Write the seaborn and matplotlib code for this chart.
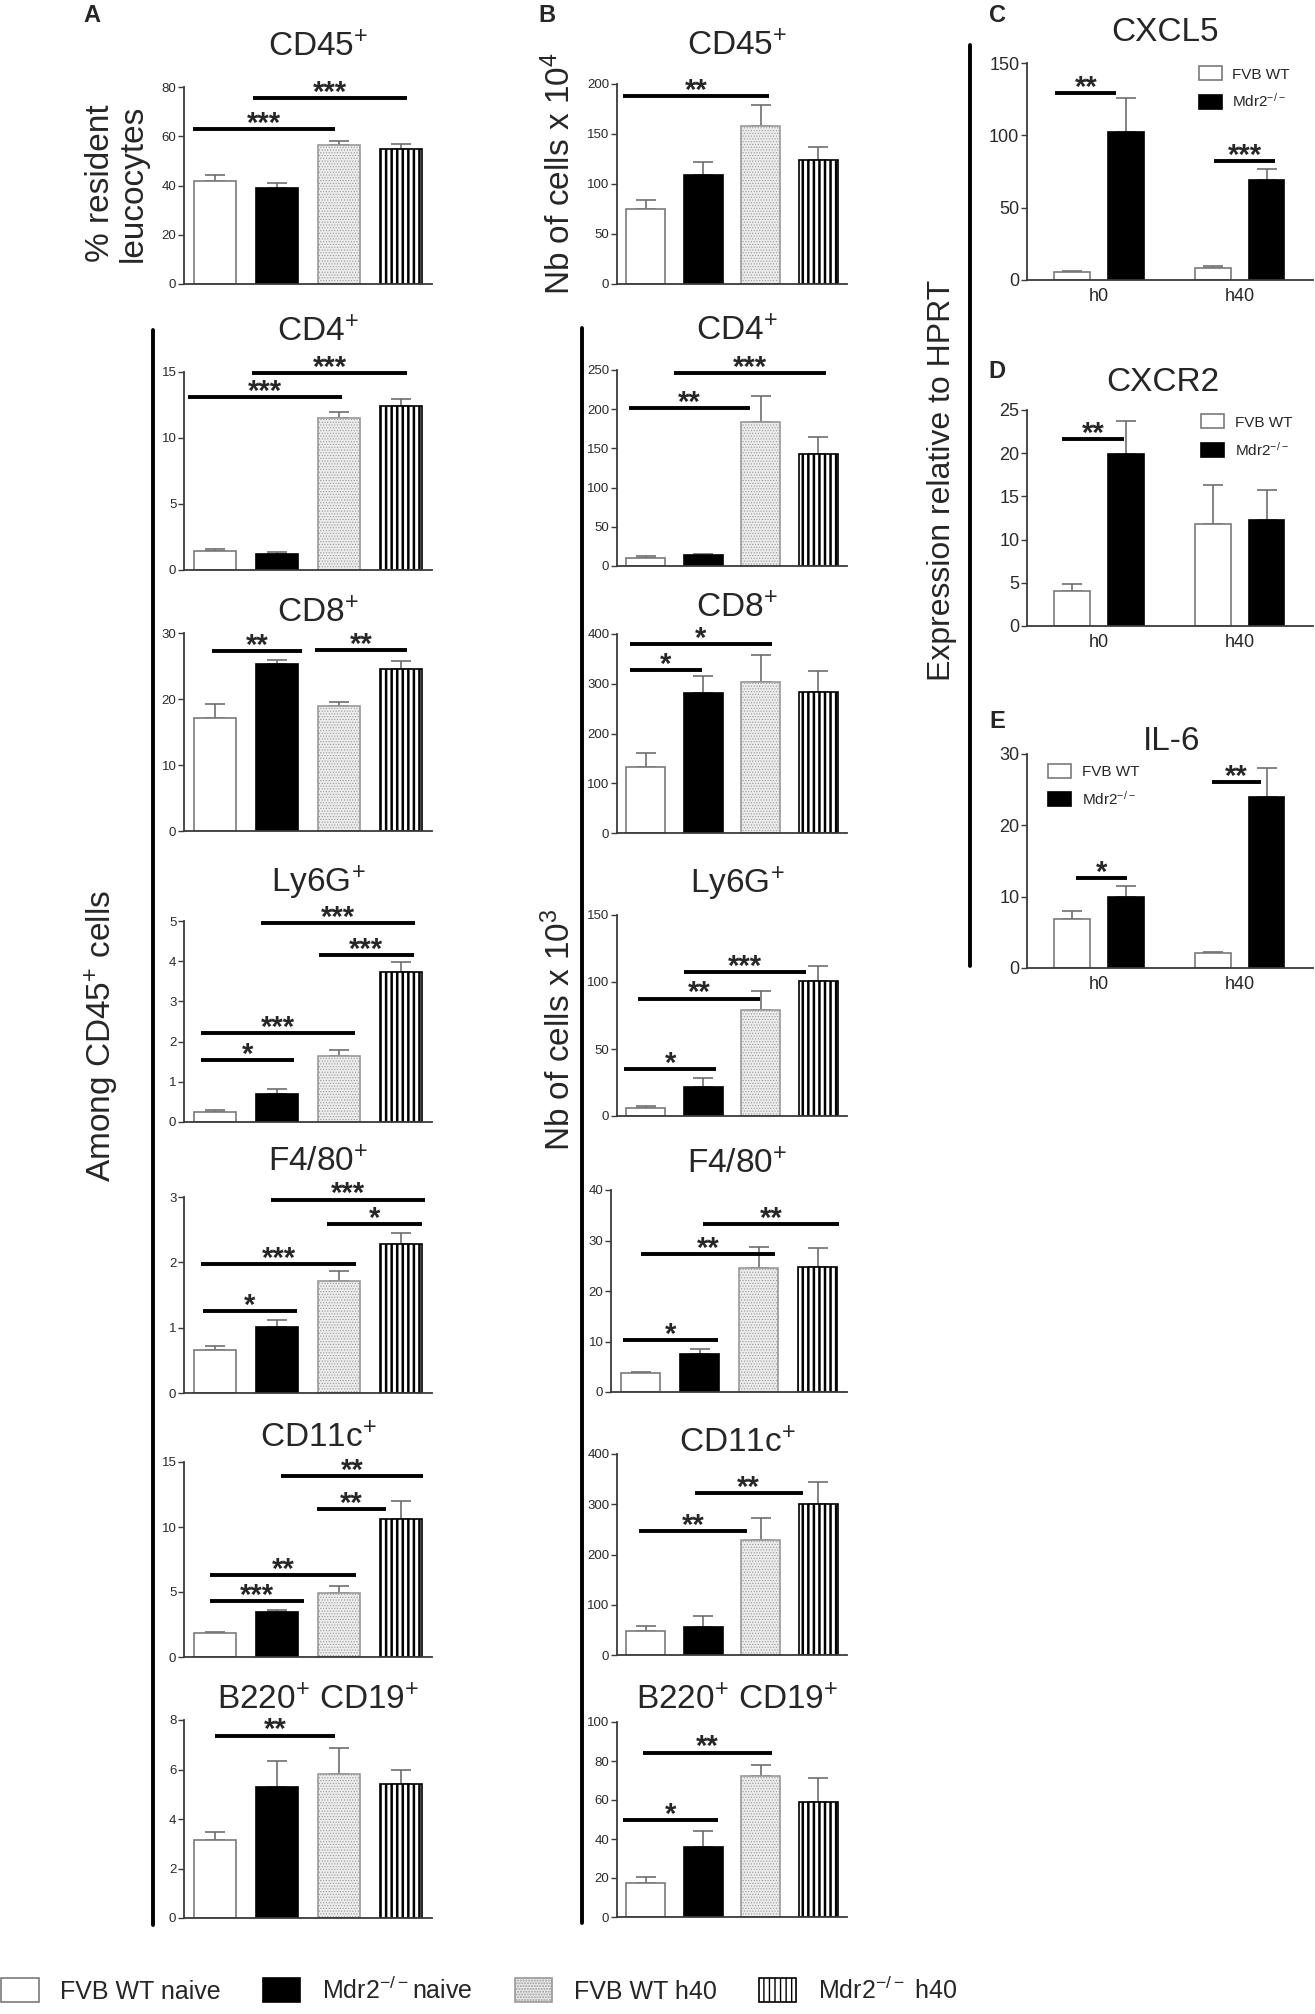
import numpy as np
import pandas as pd
import matplotlib
matplotlib.use('Agg')
import matplotlib.pyplot as plt
import seaborn as sns
from matplotlib.patches import Rectangle
from matplotlib.lines import Line2D

sns.set_theme(style='ticks')
plt.rcParams['font.family'] = ['Liberation Sans', 'DejaVu Sans']
plt.rcParams['mathtext.default'] = 'regular'

# ---- data -------------------------------------------------------------
groups = ['FVB WT naive', 'Mdr2-/- naive', 'FVB WT h40', 'Mdr2-/- h40']
legend_labels = ['FVB WT naive', 'Mdr2$^{-/-}$naive', 'FVB WT h40', 'Mdr2$^{-/-}$ h40']

# A: % of CD45+ / % resident leucocytes (mean, sem)
a_cd45 = [42.0, 38.9, 56.3, 54.9]
a_cd45_err = [2.2, 2.2, 1.8, 1.9]
a_cd4 = [1.45, 1.22, 11.48, 12.4]
a_cd4_err = [0.12, 0.11, 0.49, 0.53]
a_cd8 = [17.1, 25.35, 19.0, 24.6]
a_cd8_err = [2.1, 0.55, 0.6, 1.2]
a_ly6g = [0.25, 0.70, 1.65, 3.74]
a_ly6g_err = [0.04, 0.12, 0.14, 0.25]
a_f480 = [0.665, 1.01, 1.71, 2.28]
a_f480_err = [0.06, 0.115, 0.15, 0.17]
a_cd11c = [1.81, 3.48, 4.92, 10.64]
a_cd11c_err = [0.13, 0.12, 0.58, 1.36]
a_b220 = [3.16, 5.3, 5.8, 5.41]
a_b220_err = [0.33, 1.05, 1.07, 0.59]

# B: number of cells
b_cd45 = [75.1, 109.1, 158.1, 124.1]
b_cd45_err = [9.1, 13.0, 20.9, 13.1]
b_cd4 = [10.6, 14.1, 183.6, 142.9]
b_cd4_err = [2.0, 1.5, 32.7, 21.1]
b_cd8 = [132.4, 281.5, 303.6, 284.2]
b_cd8_err = [28.4, 34.5, 54.1, 42.3]
b_ly6g = [5.9, 21.9, 79.4, 101.0]
b_ly6g_err = [1.3, 6.2, 13.9, 11.1]
b_f480 = [3.76, 7.52, 24.6, 24.8]
b_f480_err = [0.21, 1.08, 4.2, 3.8]
b_cd11c = [48.1, 56.4, 228.2, 301.0]
b_cd11c_err = [9.6, 21.3, 45.3, 42.6]
b_b220 = [17.25, 35.7, 72.5, 58.8]
b_b220_err = [3.35, 8.35, 5.4, 12.4]

# significance bars: (from, to, height, label), x in group units
a_cd45_sig = [(-0.35, 1.94, 62.9, '***'), (0.61, 3.1, 75.6, '***')]
a_cd4_sig = [(-0.44, 2.05, 13.1, '***'), (0.6, 3.1, 14.9, '***')]
a_cd8_sig = [(-0.05, 1.41, 27.3, '**'), (1.62, 3.09, 27.4, '**')]
a_ly6g_sig = [(-0.23, 1.28, 1.53, '*'), (-0.23, 2.26, 2.21, '***'),
              (1.67, 3.21, 4.15, '***'), (0.735, 3.22, 4.95, '***')]
a_f480_sig = [(-0.2, 1.32, 1.26, '*'), (-0.22, 2.28, 1.97, '***'),
              (1.81, 3.34, 2.59, '*'), (0.9, 3.39, 2.96, '***')]
a_cd11c_sig = [(-0.08, 1.44, 4.29, '***'), (-0.08, 2.28, 6.28, '**'),
               (1.64, 2.76, 11.37, '**'), (1.06, 3.36, 13.94, '**')]
a_b220_sig = [(0.0, 1.93, 7.37, '**')]

b_cd45_sig = [(-0.4, 2.15, 187.7, '**')]
b_cd4_sig = [(-0.3, 1.81, 201.2, '**'), (0.49, 3.13, 246, '***')]
b_cd8_sig = [(-0.27, 0.97, 327.2, '*'), (-0.27, 2.19, 379.2, '*')]
b_ly6g_sig = [(-0.38, 1.23, 34.8, '*'), (-0.14, 1.99, 87.6, '**'), (0.67, 2.79, 107.5, '***')]
b_f480_sig = [(-0.3, 1.31, 10.2, '*'), (0.0, 2.28, 27.35, '**'), (1.06, 3.37, 33.2, '**')]
b_cd11c_sig = [(-0.12, 1.76, 247.4, '**'), (0.85, 2.73, 322.3, '**')]
b_b220_sig = [(-0.39, 1.26, 49.6, '*'), (-0.05, 2.2, 84.3, '**')]

# C-E: expression relative to HPRT
times = ['h0', 'h40']
genotypes = ['FVB WT', 'Mdr2$^{-/-}$']
cxcl5_wt = [5.8, 8.0]
cxcl5_wt_err = [0.4, 1.8]
cxcl5_ko = [102.0, 69.2]
cxcl5_ko_err = [23.6, 7.6]
cxcl5_sig = [(-0.31, 0.125, 129.2, '**'), (0.82, 1.25, 82.1, '***')]
cxcr2_wt = [4.08, 11.8]
cxcr2_wt_err = [0.74, 4.5]
cxcr2_ko = [19.95, 12.3]
cxcr2_ko_err = [3.75, 3.4]
cxcr2_sig = [(-0.26, 0.18, 21.66, '**')]
il6_wt = [6.8, 2.15]
il6_wt_err = [1.26, 0.08]
il6_ko = [9.94, 24.0]
il6_ko_err = [1.52, 4.1]
il6_sig = [(-0.16, 0.2, 12.6, '*'), (0.8, 1.15, 26.05, '**')]

# ---- styling ------------------------------------------------------------
W, H = 1315, 2014
STYLES = [
    dict(facecolor='white', edgecolor='#7a7a7a', hatch=None, hlw=1.0),
    dict(facecolor='black', edgecolor='black', hatch=None, hlw=1.0),
    dict(facecolor='#ececec', edgecolor='#9a9a9a', hatch='......', hlw=0.5),
    dict(facecolor='white', edgecolor='black', hatch='|||', hlw=1.8),
]


def style_patch(p, st):
    p.set_facecolor(st['facecolor'])
    p.set_edgecolor(st['edgecolor'])
    p.set_linewidth(1.2)
    if st['hatch']:
        p.set_hatch(st['hatch'])
        if hasattr(p, 'set_hatch_linewidth'):
            p.set_hatch_linewidth(st['hlw'])


def px_axes(fig, l, t, r, b):
    return fig.add_axes([l / W, 1 - b / H, (r - l) / W, (b - t) / H])


def fig_text(fig, x, y, s, **kw):
    return fig.text(x / W, 1 - y / H, s, **kw)


def add_sig(ax, sig, fs=21):
    for x0, x1, y, lab in sig:
        ax.plot([x0, x1], [y, y], color='black', lw=2.8, solid_capstyle='butt',
                clip_on=False, zorder=4)
        ax.annotate(lab, xy=((x0 + x1) / 2, y), xytext=(0, -2), textcoords='offset points',
                    ha='center', va='baseline', fontsize=fs, fontweight='bold',
                    annotation_clip=False)


def frame(ax, ymax, step, labelsize):
    ax.set_ylim(0, ymax)
    ax.set_yticks(np.arange(0, ymax + step / 2, step))
    ax.set_xlabel('')
    ax.set_ylabel('')
    sns.despine(ax=ax)
    for s in ('left', 'bottom'):
        ax.spines[s].set_color('#3a3a3a')
        ax.spines[s].set_linewidth(1.3)
    ax.tick_params(axis='y', length=4, width=1, color='#3a3a3a', labelsize=labelsize,
                   labelcolor='#2a2a2a', pad=1.5)


def cell_panel(fig, box, mean, err, sig, ymax, step):
    ax = px_axes(fig, *box)
    sns.barplot(x=groups, y=mean, order=groups, width=0.67, errorbar=None, ax=ax, zorder=2)
    for p, st in zip(ax.patches, STYLES):
        style_patch(p, st)
    xs = [p.get_x() + p.get_width() / 2 for p in ax.patches]
    ax.errorbar(xs, mean, yerr=[np.zeros(len(err)), err], fmt='none', ecolor='#6e6e6e',
                elinewidth=1.2, capsize=7, capthick=1.2, zorder=1)
    ax.set_xlim(-0.5, 3.5)
    ax.set_xticks([])
    frame(ax, ymax, step, 9.5)
    add_sig(ax, sig)
    return ax


def expr_panel(fig, box, wt, wt_err, ko, ko_err, sig, ymax, step, leg_xy):
    ax = px_axes(fig, *box)
    df = pd.DataFrame({'time': times * 2,
                       'genotype': [genotypes[0]] * 2 + [genotypes[1]] * 2,
                       'value': wt + ko})
    sns.barplot(data=df, x='time', y='value', hue='genotype', hue_order=genotypes,
                palette=['white', 'black'], width=0.76, gap=0.33, errorbar=None,
                legend=False, ax=ax, zorder=2)
    for cont, st, vals, errs in zip(ax.containers, STYLES[:2], [wt, ko], [wt_err, ko_err]):
        for p in cont:
            style_patch(p, st)
        xs = [p.get_x() + p.get_width() / 2 for p in cont]
        ax.errorbar(xs, vals, yerr=[np.zeros(len(errs)), errs], fmt='none', ecolor='#6e6e6e',
                    elinewidth=1.2, capsize=7, capthick=1.2, zorder=1)
    ax.set_xlim(-0.51, 1.52)
    frame(ax, ymax, step, 13)
    ax.tick_params(axis='x', length=0, labelsize=13, pad=6)
    add_sig(ax, sig)
    handles = [Rectangle((0, 0), 1, 1, facecolor='white', edgecolor='#7a7a7a', lw=1.2),
               Rectangle((0, 0), 1, 1, facecolor='black', edgecolor='black', lw=1.2)]
    ax.legend(handles, genotypes, loc='upper left', bbox_to_anchor=leg_xy, frameon=False,
              fontsize=11, handlelength=1.5, handleheight=1.05, handletextpad=0.7,
              labelspacing=0.7, borderpad=0, borderaxespad=0)
    return ax


fig = plt.figure(figsize=(W / 100, H / 100), dpi=100)

a_rows = [(87, 284), (372, 570), (633, 831), (921, 1122), (1197, 1393), (1462, 1657), (1720, 1918)]
b_rows = [(84, 284), (370, 566), (634, 833), (915, 1116), (1190, 1392), (1454, 1655), (1722, 1917)]
a_title_y = [44, 329, 610, 880, 1159, 1435, 1697]
b_title_y = [43, 328, 605, 881, 1161, 1440, 1697]
titles = ['CD45$^{+}$', 'CD4$^{+}$', 'CD8$^{+}$', 'Ly6G$^{+}$', 'F4/80$^{+}$',
          'CD11c$^{+}$', 'B220$^{+}$ CD19$^{+}$']

a_sets = [(a_cd45, a_cd45_err, a_cd45_sig, 80, 20), (a_cd4, a_cd4_err, a_cd4_sig, 15, 5),
          (a_cd8, a_cd8_err, a_cd8_sig, 30, 10), (a_ly6g, a_ly6g_err, a_ly6g_sig, 5, 1),
          (a_f480, a_f480_err, a_f480_sig, 3, 1), (a_cd11c, a_cd11c_err, a_cd11c_sig, 15, 5),
          (a_b220, a_b220_err, a_b220_sig, 8, 2)]
b_sets = [(b_cd45, b_cd45_err, b_cd45_sig, 200, 50), (b_cd4, b_cd4_err, b_cd4_sig, 250, 50),
          (b_cd8, b_cd8_err, b_cd8_sig, 400, 100), (b_ly6g, b_ly6g_err, b_ly6g_sig, 150, 50),
          (b_f480, b_f480_err, b_f480_sig, 40, 10), (b_cd11c, b_cd11c_err, b_cd11c_sig, 400, 100),
          (b_b220, b_b220_err, b_b220_sig, 100, 20)]

for (t, b), ty, title, (m, e, s, ym, st) in zip(a_rows, a_title_y, titles, a_sets):
    cell_panel(fig, (184, t, 432, b), m, e, s, ym, st)
    fig_text(fig, 318, ty + 12, title, fontsize=24, ha='center', va='baseline')
for i, ((t, b), ty, title, (m, e, s, ym, st)) in enumerate(zip(b_rows, b_title_y, titles, b_sets)):
    left = 611 if i == 4 else 617
    cell_panel(fig, (left, t, 847, b), m, e, s, ym, st)
    fig_text(fig, 737, ty + 12, title, fontsize=24, ha='center', va='baseline')

expr_panel(fig, (1027, 63, 1313, 280), cxcl5_wt, cxcl5_wt_err, cxcl5_ko, cxcl5_ko_err,
           cxcl5_sig, 150, 50, (0.60, 0.985))
expr_panel(fig, (1027, 410, 1313, 626), cxcr2_wt, cxcr2_wt_err, cxcr2_ko, cxcr2_ko_err,
           cxcr2_sig, 25, 5, (0.61, 0.98))
expr_panel(fig, (1027, 754, 1313, 968), il6_wt, il6_wt_err, il6_ko, il6_ko_err,
           il6_sig, 30, 10, (0.075, 0.955))
for name, x, y in [('CXCL5', 1165, 29), ('CXCR2', 1163, 379), ('IL-6', 1172, 738)]:
    fig_text(fig, x, y + 12, name, fontsize=24, ha='center', va='baseline')

# panel letters and shared axis labels
for lab, x, y in [('A', 92, 16), ('B', 547, 16), ('C', 998, 16), ('D', 997, 372), ('E', 997, 722)]:
    fig_text(fig, x, y, lab, fontsize=17, fontweight='bold', ha='center', va='center')

fig_text(fig, 117, 183, '% resident\nleucocytes', rotation=90, fontsize=24,
         ha='center', va='center', linespacing=1.05)
fig_text(fig, 560, 174, 'Nb of cells x 10$^{4}$', rotation=90, fontsize=24,
         ha='center', va='center')
fig_text(fig, 102, 1036, 'Among CD45$^{+}$ cells', rotation=90, fontsize=24,
         ha='center', va='center')
fig_text(fig, 560, 1030, 'Nb of cells x 10$^{3}$', rotation=90, fontsize=24,
         ha='center', va='center')
fig_text(fig, 942, 480, 'Expression relative to HPRT', rotation=90, fontsize=23,
         ha='center', va='center')

# vertical brackets
for x, y0, y1 in [(153, 330, 1925), (582, 328, 1923), (970, 45, 966)]:
    fig.add_artist(Line2D([x / W, x / W], [1 - y0 / H, 1 - y1 / H], color='black', lw=2.8,
                          transform=fig.transFigure))

# bottom legend
handles = []
for st in STYLES:
    r = Rectangle((0, 0), 1, 1, facecolor=st['facecolor'], edgecolor=st['edgecolor'],
                  hatch=st['hatch'], lw=1.2)
    if st['hatch'] and hasattr(r, 'set_hatch_linewidth'):
        r.set_hatch_linewidth(st['hlw'])
    handles.append(r)
fig.legend(handles, legend_labels, loc='center left', bbox_to_anchor=(1 / W, 1 - 1990 / H),
           ncol=4, frameon=False, fontsize=18, handlelength=1.5, handleheight=1.1,
           handletextpad=0.85, columnspacing=1.7, borderpad=0, borderaxespad=0)

fig.savefig('out.png', dpi=100)
